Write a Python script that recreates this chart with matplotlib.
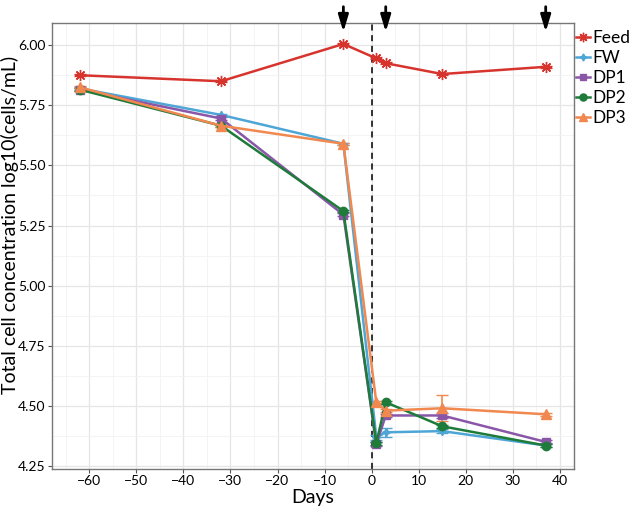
import matplotlib
matplotlib.use("Agg")
import matplotlib.pyplot as plt
from matplotlib.ticker import MultipleLocator
from matplotlib.lines import Line2D

plt.rcParams['font.family'] = ['Lato', 'DejaVu Sans']

days = [-62, -32, -6, 1, 3, 15, 37]
feed = [5.875, 5.850, 6.005, 5.945, 5.925, 5.880, 5.910]
fw   = [5.820, 5.710, 5.590, 4.370, 4.390, 4.395, 4.335]
dp1  = [5.815, 5.695, 5.295, 4.340, 4.460, 4.460, 4.350]
dp2  = [5.815, 5.665, 5.310, 4.345, 4.515, 4.415, 4.335]
dp3  = [5.825, 5.665, 5.590, 4.515, 4.480, 4.490, 4.465]

feed_err = [0.004, 0.004, 0.004, 0.004, 0.004, 0.004, 0.004]
fw_err   = [0.005, 0.005, 0.005, 0.010, 0.018, 0.008, 0.006]
dp1_err  = [0.005, 0.005, 0.005, 0.008, 0.008, 0.010, 0.006]
dp2_err  = [0.005, 0.005, 0.005, 0.006, 0.006, 0.006, 0.008]
dp3_err  = [0.005, 0.005, 0.005, 0.005, 0.005, 0.055, 0.006]

arrow_days = [-6, 3, 37]

series = [
    ("Feed", feed, feed_err, "#D7342E", (8, 2, 0), 8),
    ("FW",   fw,   fw_err,   "#4EA6D6", (4, 1, 0), 6),
    ("DP1",  dp1,  dp1_err,  "#8A57A8", "s", 5.5),
    ("DP2",  dp2,  dp2_err,  "#1E7B3A", "o", 6),
    ("DP3",  dp3,  dp3_err,  "#F0884F", "^", 6.5),
]

fig = plt.figure(figsize=(6.3, 5.07), dpi=100)
ax = fig.add_axes([0.082, 0.075, 0.829, 0.880])

ax.set_xlim(-68, 43)
ax.set_ylim(4.2375, 6.093)

ax.xaxis.set_major_locator(MultipleLocator(10))
ax.xaxis.set_minor_locator(MultipleLocator(5))
ax.yaxis.set_major_locator(MultipleLocator(0.25))
ax.yaxis.set_minor_locator(MultipleLocator(0.125))
ax.grid(which='major', color='#E6E6E6', lw=0.9)
ax.grid(which='minor', color='#F2F2F2', lw=0.6)
ax.set_axisbelow(True)

for s in ax.spines.values():
    s.set_color('#777777')
    s.set_linewidth(1.0)

ax.tick_params(which='major', direction='out', length=3, color='#555555',
               labelsize=10, labelcolor='black', pad=1.5)
ax.tick_params(which='minor', length=0)
ax.yaxis.set_major_formatter(plt.FuncFormatter(lambda v, p: f"{v:.2f}"))
ax.xaxis.set_major_formatter(plt.FuncFormatter(lambda v, p: f"{int(v)}".replace('-', '\u2212')))

ax.axvline(0, color='black', ls=(0, (4, 3)), lw=1.1, zorder=1)

handles = []
for name, vals, err, col, mk, ms in series:
    ax.errorbar(days, vals, yerr=err, color=col, lw=1.8, marker=mk, ms=ms,
                mew=1.0, capsize=4, elinewidth=1.2, capthick=1.2, zorder=3)
    handles.append(Line2D([], [], color=col, lw=1.8, marker=mk, ms=ms * 0.85,
                          mew=1.0, label=name))

for d in arrow_days:
    ax.annotate("", xy=(d, 6.055), xytext=(d, 6.16), xycoords='data',
                textcoords='data',
                arrowprops=dict(arrowstyle='-|>,head_width=0.3,head_length=1.0',
                                color='black', lw=2.0, shrinkA=0, shrinkB=0),
                annotation_clip=False, zorder=6)

ax.set_xlabel("Days", fontsize=14)
ax.xaxis.set_label_coords(0.5, -0.045)
ax.set_ylabel("Total cell concentration log10(cells/mL)", fontsize=14)
ax.yaxis.set_label_coords(-0.063, 0.547)

fig.legend(handles=handles, loc='upper left', bbox_to_anchor=(0.915, 0.940),
           frameon=False, fontsize=12.5, handlelength=0.8, handletextpad=0.12,
           labelspacing=0.22, borderaxespad=0, borderpad=0)

fig.savefig("out.png", dpi=100)
